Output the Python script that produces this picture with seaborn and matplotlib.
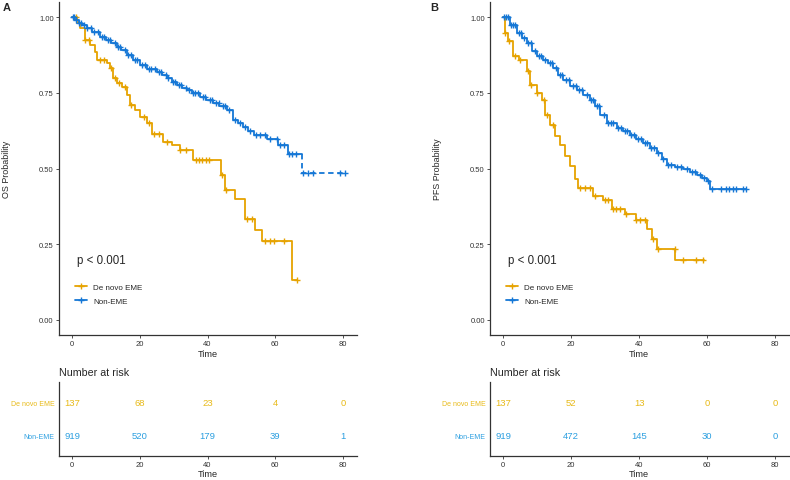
import numpy as np
import pandas as pd
import seaborn as sns
import matplotlib.pyplot as plt
from matplotlib.lines import Line2D

# A. OS - De novo EME (step times / survival, censor times)
os_denovo_t = [0, 1.4, 2.4, 3.8, 5.3, 6.8, 7.3, 10.3, 11.2, 12.2, 13.2, 14.7, 16.2, 17.1, 18.6, 20.1,
               22.0, 23.5, 27.0, 29.5, 31.9, 35.8, 44.0, 45.2, 48.2, 51.1, 54.1, 56.0, 64.9, 66.3]
os_denovo_s = [1.0, 0.98, 0.963, 0.925, 0.908, 0.886, 0.858, 0.850, 0.831, 0.798, 0.781, 0.770, 0.742, 0.709,
               0.693, 0.671, 0.649, 0.615, 0.588, 0.577, 0.560, 0.527, 0.477, 0.428, 0.398, 0.334, 0.298,
               0.262, 0.133, 0.133]
os_denovo_cens = [1.3, 3.9, 5.0, 8.3, 9.5, 11.5, 12.6, 13.8, 15.5, 17.5, 21.2, 22.7, 24.3, 25.8, 28.0,
                  32.0, 33.6, 36.5, 37.5, 38.5, 39.5, 40.5, 44.3, 45.6, 51.6, 53.0, 57.0, 58.6, 59.7, 62.6, 66.3]

# A. OS - Non-EME
os_non_t = [0, 1, 2, 3, 4.3, 6, 8.3, 10, 11.5, 13.2, 14.5, 16.2, 18, 20.1, 22, 25, 26.5, 28, 29.5, 30.9,
            32.5, 33.9, 35.5, 37.8, 39.5, 41.7, 43.5, 45.7, 47.6, 49, 50.6, 52, 53.6, 57.5, 60.9, 63.9,
            67.8, 80.5]
os_non_s = [1.0, 0.99, 0.982, 0.975, 0.964, 0.95, 0.936, 0.925, 0.915, 0.903, 0.89, 0.875, 0.86, 0.842,
            0.83, 0.820, 0.809, 0.798, 0.787, 0.776, 0.767, 0.759, 0.749, 0.737, 0.727, 0.715, 0.705, 0.693,
            0.660, 0.650, 0.638, 0.625, 0.610, 0.599, 0.577, 0.549, 0.486, 0.486]
os_non_cens = [0.2, 0.7, 1.3, 2.1, 2.7, 3.6, 4.4, 5.6, 6.4, 7.6, 8.7, 9.4, 10.6, 11.3, 12.7, 13.6, 14.3,
               15.7, 16.6, 17.4, 18.6, 19.3, 20.6, 21.4, 22.7, 23.4, 24.6, 25.7, 26.3, 27.6, 28.4, 29.7,
               30.4, 31.6, 32.3, 33.7, 34.4, 35.7, 36.4, 37.3, 38.6, 39.3, 40.6, 41.2, 42.6, 43.3, 44.6,
               45.3, 46.4, 48.2, 49.6, 51.0, 52.6, 54.2, 55.5, 57.0, 58.5, 60.5, 61.5, 62.5, 64.0, 65.0,
               66.0, 68.3, 69.8, 71.3, 79.2, 80.5]
os_non_dash_from = 67.8

# B. PFS - De novo EME
pfs_denovo_t = [0, 0.5, 1.5, 2.9, 4.5, 6.9, 7.9, 9.8, 11.3, 12.3, 13.8, 15.2, 16.7, 18.2, 19.6, 21.1, 22.1,
                26.5, 29.4, 31.9, 35.8, 39.1, 42.2, 43.7, 45.2, 50.6, 59.0]
pfs_denovo_s = [1.0, 0.947, 0.92, 0.870, 0.859, 0.821, 0.777, 0.75, 0.727, 0.678, 0.645, 0.606, 0.579,
                0.541, 0.508, 0.464, 0.436, 0.409, 0.396, 0.367, 0.351, 0.330, 0.299, 0.268, 0.235, 0.198,
                0.198]
pfs_denovo_cens = [0.5, 1.8, 3.4, 4.9, 7.3, 8.3, 9.8, 12.0, 12.8, 14.5, 22.6, 24.0, 25.5, 27.0, 29.9, 30.8,
                   32.3, 33.3, 34.3, 36.2, 39.1, 40.1, 41.6, 44.1, 45.5, 50.4, 52.9, 56.8, 58.8]

# B. PFS - Non-EME
pfs_non_t = [0, 2, 3.9, 5.4, 6.9, 8.4, 9.8, 11.8, 13.3, 14.7, 16.2, 17.7, 19.6, 21.6, 23.6, 25.5, 27, 28.5,
             30.4, 33.4, 35.3, 37.3, 39.2, 41.2, 43.2, 45.2, 46.7, 48.1, 50.5, 53, 55, 57, 58.5, 59.9, 60.9,
             71.5]
pfs_non_s = [1.0, 0.975, 0.947, 0.931, 0.914, 0.887, 0.870, 0.859, 0.848, 0.832, 0.810, 0.793, 0.771, 0.760,
             0.744, 0.727, 0.705, 0.678, 0.651, 0.634, 0.623, 0.612, 0.598, 0.585, 0.568, 0.552, 0.532,
             0.513, 0.505, 0.497, 0.489, 0.480, 0.470, 0.458, 0.431, 0.431]
pfs_non_cens = [0.2, 0.8, 1.4, 2.2, 2.9, 3.5, 4.6, 5.3, 6.2, 7.4, 8.1, 9.2, 10.4, 11.1, 12.3, 13.6, 14.2,
                15.4, 16.7, 17.3, 18.4, 19.2, 20.5, 21.3, 22.4, 23.2, 24.6, 25.7, 26.4, 27.6, 28.3, 29.6,
                30.8, 31.6, 32.4, 33.7, 34.6, 35.8, 36.5, 37.6, 38.4, 39.7, 40.5, 41.6, 42.4, 43.6, 44.5,
                45.6, 47.0, 48.6, 49.5, 51.2, 52.4, 54.0, 55.6, 56.5, 58.0, 59.2, 60.3, 61.4, 64.0, 65.5,
                66.4, 67.6, 68.5, 70.6, 71.5]

groups = ['De novo EME', 'Non-EME']
risk_times = [0, 20, 40, 60, 80]
os_risk_denovo = [137, 68, 23, 4, 0]
os_risk_non = [919, 520, 179, 39, 1]
pfs_risk_denovo = [137, 52, 13, 0, 0]
pfs_risk_non = [919, 472, 145, 30, 0]

c_orange = '#E6A300'
c_blue = '#1577D6'
c_orange_txt = '#E8BA18'
c_blue_txt = '#2C9FE0'
axis_col = '#333333'

sns.set_theme(style='ticks')
plt.rcParams['font.family'] = ['Liberation Sans', 'DejaVu Sans']

fig = plt.figure(figsize=(7.9, 4.81), dpi=100)

W, H = 790, 481
main_a = fig.add_axes([58.5 / W, (H - 336) / H, 298 / W, 333 / H])
main_b = fig.add_axes([489.7 / W, (H - 336) / H, 299 / W, 333 / H])
risk_a = fig.add_axes([58.5 / W, (H - 457) / H, 298 / W, 74 / H])
risk_b = fig.add_axes([489.7 / W, (H - 457) / H, 299 / W, 74 / H])


def cens_points(t, s, cens):
    t = np.asarray(t)
    s = np.asarray(s)
    idx = np.searchsorted(t, cens, side='right') - 1
    return pd.DataFrame({'Time': cens, 'Surv': s[idx]})


def style_axes(ax):
    sns.despine(ax=ax)
    for sp in ['left', 'bottom']:
        ax.spines[sp].set_color(axis_col)
        ax.spines[sp].set_linewidth(0.9)
    ax.set_xlim(-4, 84)
    ax.set_xticks(risk_times)
    ax.tick_params(colors=axis_col, labelsize=5.5, length=2, width=0.6, pad=1.5)


def draw_km(ax, curves, ylabel):
    for t, s, cens, col, dash_from in curves:
        df = pd.DataFrame({'Time': t, 'Surv': s})
        if dash_from is None:
            sns.lineplot(data=df, x='Time', y='Surv', ax=ax, color=col, lw=1.3,
                         drawstyle='steps-post', estimator=None, sort=False)
        else:
            before = df[df['Time'] < dash_from]
            solid = pd.concat([before, pd.DataFrame({'Time': [dash_from], 'Surv': [before['Surv'].iloc[-1]]})])
            dashed = pd.concat([solid.tail(1), df[df['Time'] >= dash_from]])
            sns.lineplot(data=solid, x='Time', y='Surv', ax=ax, color=col, lw=1.3,
                         drawstyle='steps-post', estimator=None, sort=False)
            sns.lineplot(data=dashed, x='Time', y='Surv', ax=ax, color=col, lw=1.3, ls=(0, (3, 2)),
                         drawstyle='steps-post', estimator=None, sort=False)
        cp = cens_points(t, s, cens)
        sns.scatterplot(data=cp, x='Time', y='Surv', ax=ax, color=col, marker='+', s=15,
                        linewidth=1.0, zorder=3)
    style_axes(ax)
    ax.set_ylim(-0.05, 1.05)
    ax.set_yticks([0, 0.25, 0.5, 0.75, 1.0])
    ax.set_yticklabels(['0.00', '0.25', '0.50', '0.75', '1.00'])
    ax.set_xlabel('Time', fontsize=6.7, labelpad=1.5)
    ax.set_ylabel(ylabel, fontsize=6.4)
    ax.yaxis.set_label_coords(-0.161, 0.5)
    ax.text(1.5, 0.199, 'p < 0.001', fontsize=8.3, va='center')
    handles = [Line2D([], [], color=c, lw=1.3, marker='+', markersize=4.5, markeredgewidth=1.0)
               for c in [c_orange, c_blue]]
    ax.legend(handles, groups, loc='center left', bbox_to_anchor=(0.055, 0.122), frameon=False,
              fontsize=5.8, handlelength=1.5, handletextpad=0.75, labelspacing=0.8,
              borderpad=0, borderaxespad=0)


def draw_risk(ax, den, non):
    style_axes(ax)
    ax.set_ylim(0.4, 2.6)
    for row, vals, col in [(2, den, c_orange_txt), (1, non, c_blue_txt)]:
        for t, n in zip(risk_times, vals):
            ax.text(t, row, str(n), ha='center', va='center', color=col, fontsize=6.8)
    ax.set_yticks([2, 1])
    ax.set_yticklabels(groups)
    ax.tick_params(axis='y', length=0, pad=3, labelsize=5)
    for lab, col in zip(ax.get_yticklabels(), [c_orange_txt, c_blue_txt]):
        lab.set_color(col)
    ax.set_xlabel('Time', fontsize=6.7, labelpad=1)
    ax.set_ylabel('')


draw_km(main_a, [(os_denovo_t, os_denovo_s, os_denovo_cens, c_orange, None),
                 (os_non_t, os_non_s, os_non_cens, c_blue, os_non_dash_from)], 'OS Probability')
draw_km(main_b, [(pfs_denovo_t, pfs_denovo_s, pfs_denovo_cens, c_orange, None),
                 (pfs_non_t, pfs_non_s, pfs_non_cens, c_blue, None)], 'PFS Probability')
draw_risk(risk_a, os_risk_denovo, os_risk_non)
draw_risk(risk_b, pfs_risk_denovo, pfs_risk_non)

fig.text(58.5 / W, 1 - 373 / H, 'Number at risk', fontsize=7.7, va='center')
fig.text(489.7 / W, 1 - 373 / H, 'Number at risk', fontsize=7.7, va='center')
fig.text(3 / W, 1 - 3 / H, 'A', fontsize=8, fontweight='bold', va='top')
fig.text(430 / W, 1 - 3 / H, 'B', fontsize=8, fontweight='bold', va='top')

fig.savefig('out.png', dpi=100)
